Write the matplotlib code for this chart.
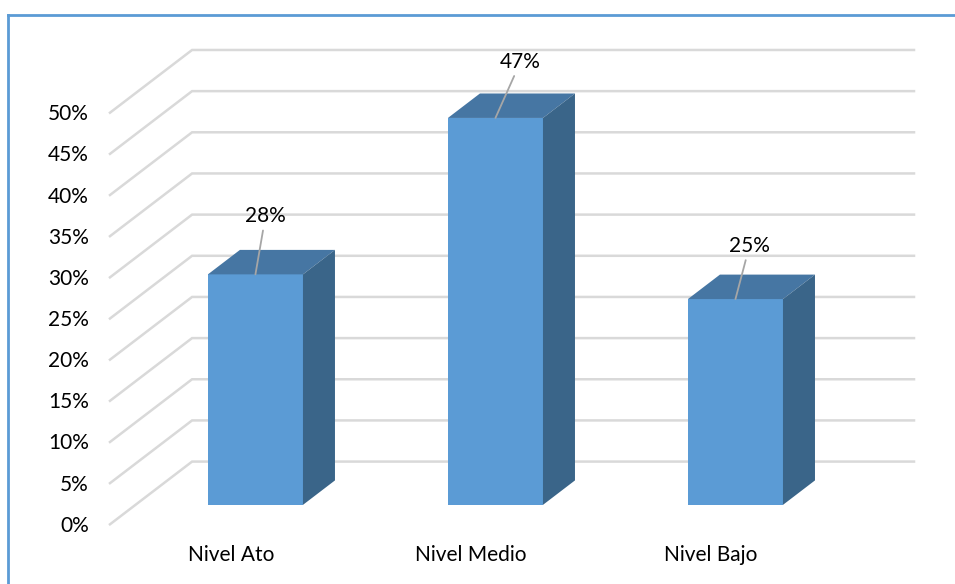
import matplotlib
matplotlib.use("Agg")
import matplotlib.pyplot as plt
from matplotlib.patches import Polygon
from matplotlib.lines import Line2D

# Data
categories = ["Nivel Ato", "Nivel Medio", "Nivel Bajo"]
values = [28, 47, 25]          # percent
tick_values = [0, 5, 10, 15, 20, 25, 30, 35, 40, 45, 50]
tick_labels = ["0%", "5%", "10%", "15%", "20%", "25%", "30%", "35%", "40%", "45%", "50%"]
value_labels = ["28%", "47%", "25%"]

# Layout / style
FRONT = "#5B9BD5"
TOP = "#4676A3"
SIDE = "#3A6589"
GRID = "#D9D9D9"
FONT = ["Lato", "DejaVu Sans"]
FS = 15

# Oblique projection: full depth of the box expressed in data units
DEPTH_X = 0.342      # category units
DEPTH_Y = 7.62       # percent units
BAR_FRONT = 0.31     # fraction of depth where the bar front sits
BAR_BACK = 0.70
BAR_W = 0.396
X_MIN, X_MAX = -0.5, 2.508
label_offsets = [(10, 58), (25, 56), (14, 53)]   # pixels from the bar's top-front centre

fig = plt.figure(figsize=(9.55, 5.84), dpi=100)
ax = fig.add_axes([0, 0, 1, 1])
ax.set_xlim(-0.9583, 3.0208)
ax.set_ylim(-7.25, 63.69)
ax.axis("off")

# Chart frame (left and top edges)
fig.add_artist(Line2D([7.5 / 955, 7.5 / 955], [0, 1 - 15 / 584], color="#5B9BD5", lw=2.0,
                      transform=fig.transFigure))
fig.add_artist(Line2D([7.5 / 955, 1], [1 - 15 / 584, 1 - 15 / 584], color="#5B9BD5", lw=2.0,
                      transform=fig.transFigure))

# Gridlines on the left and back walls
for v in tick_values:
    ax.plot([X_MIN, X_MIN + DEPTH_X, X_MAX + DEPTH_X], [v, v + DEPTH_Y, v + DEPTH_Y],
            color=GRID, lw=1.8, solid_joinstyle="miter", zorder=1)

# Value axis tick labels
for v, t in zip(tick_values, tick_labels):
    ax.annotate(t, (X_MIN, v), xytext=(-21, -1.5), textcoords="offset pixels",
                ha="right", va="center", fontsize=FS, family=FONT, color="#000000")

# Bars as oblique boxes
for i, v in enumerate(values):
    x0 = i - BAR_W / 2 + BAR_FRONT * DEPTH_X
    x1 = x0 + BAR_W
    y0 = BAR_FRONT * DEPTH_Y
    dx = (BAR_BACK - BAR_FRONT) * DEPTH_X
    dy = (BAR_BACK - BAR_FRONT) * DEPTH_Y
    y1 = y0 + v
    front = Polygon([(x0, y0), (x1, y0), (x1, y1), (x0, y1)], closed=True,
                    facecolor=FRONT, edgecolor="none", zorder=3)
    top = Polygon([(x0, y1), (x1, y1), (x1 + dx, y1 + dy), (x0 + dx, y1 + dy)], closed=True,
                  facecolor=TOP, edgecolor="none", zorder=3)
    side = Polygon([(x1, y0), (x1 + dx, y0 + dy), (x1 + dx, y1 + dy), (x1, y1)], closed=True,
                   facecolor=SIDE, edgecolor="none", zorder=3)
    for p in (front, top, side):
        ax.add_patch(p)

    # Value label with leader line
    ox, oy = label_offsets[i]
    ax.annotate(value_labels[i], ((x0 + x1) / 2, y1), xytext=(ox, oy), textcoords="offset pixels",
                ha="center", va="center", fontsize=FS, family=FONT, color="#000000", zorder=5,
                arrowprops=dict(arrowstyle="-", color="#A6A6A6", lw=1.3, shrinkA=1, shrinkB=0))

# Category labels
for i, c in enumerate(categories):
    ax.annotate(c, (i, 0), xytext=(1, -31), textcoords="offset pixels",
                ha="center", va="center", fontsize=FS, family=FONT, color="#000000")

fig.savefig("out.png", dpi=100)
